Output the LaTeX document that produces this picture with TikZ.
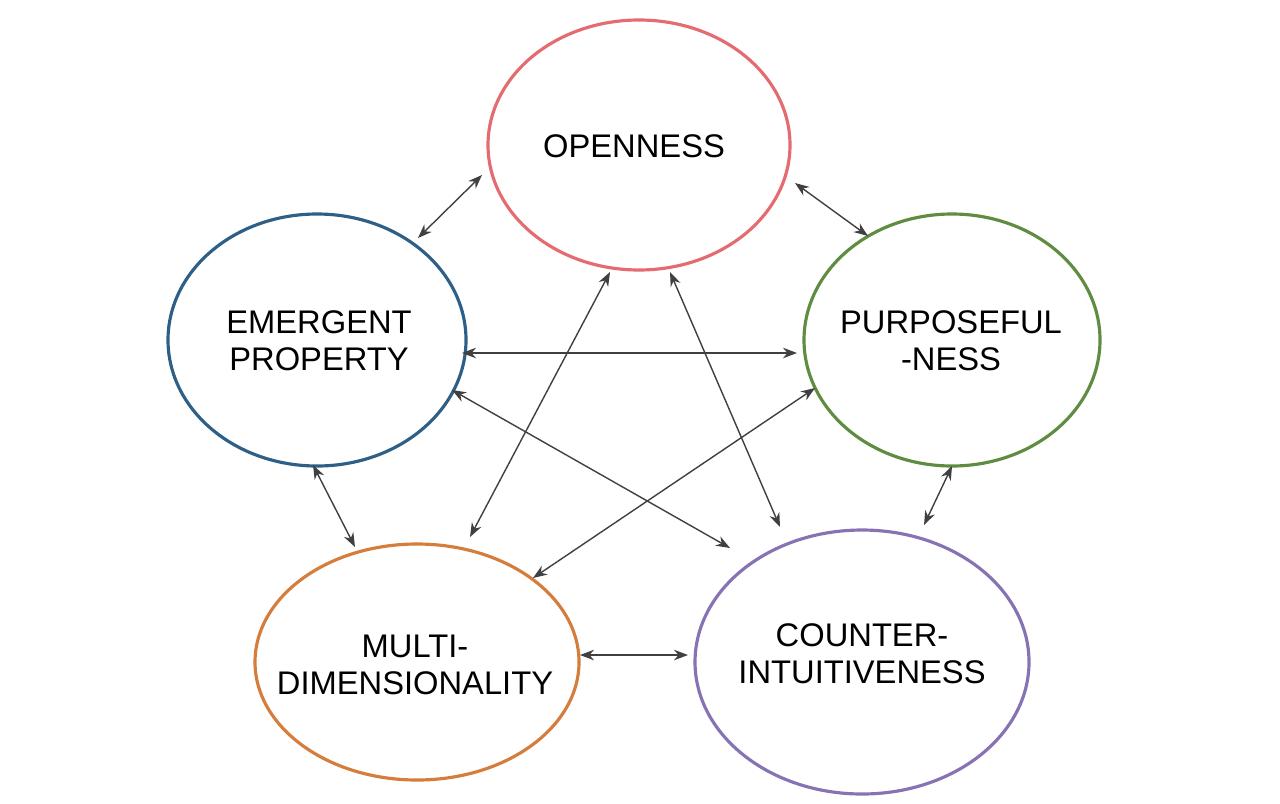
\documentclass[tikz,border=0pt]{standalone}
\usepackage{fontspec}
\setmainfont{Liberation Sans}
\usetikzlibrary{arrows.meta}
\definecolor{cred}{RGB}{228,108,112}
\definecolor{cblue}{RGB}{45,95,135}
\definecolor{cgreen}{RGB}{95,140,65}
\definecolor{corange}{RGB}{212,125,60}
\definecolor{cpurple}{RGB}{135,115,180}
\begin{document}
\begin{tikzpicture}[x=0.01cm,y=-0.01cm,
  ring/.style={line width=0.9pt},
  lbl/.style={align=center,inner sep=0pt,font=\fontsize{9.3}{10.6}\selectfont},
  ar/.style={line width=0.4pt,draw=black!75,{Stealth[length=4pt,width=3pt]}-{Stealth[length=4pt,width=3pt]}}]
\useasboundingbox (0,0) rectangle (1280,803);
\draw[ring,cred] (639,145) ellipse [x radius=151,y radius=125];
\node[lbl] (op) at (634,146) {OPENNESS};
\draw[ring,cblue] (317,340) ellipse [x radius=149,y radius=126];
\node[lbl] (em) at (319,341) {EMERGENT\\PROPERTY};
\draw[ring,cgreen] (952,340) ellipse [x radius=148,y radius=126];
\node[lbl] (pu) at (951,341) {PURPOSEFUL\\-NESS};
\draw[ring,corange] (417,662) ellipse [x radius=162,y radius=118];
\node[lbl] (mu) at (415,665) {MULTI-\\DIMENSIONALITY};
\draw[ring,cpurple] (862,662) ellipse [x radius=167,y radius=132];
\node[lbl] (co) at (862,654) {COUNTER-\\INTUITIVENESS};
\coordinate (a1) at (482,175); \coordinate (a2) at (418,238);
\coordinate (b1) at (795,183); \coordinate (b2) at (868,236);
\coordinate (c1) at (462,353); \coordinate (c2) at (797,353);
\coordinate (d1) at (452,390); \coordinate (d2) at (730,548);
\coordinate (e1) at (815,388); \coordinate (e2) at (533,578);
\coordinate (f1) at (610,272); \coordinate (f2) at (470,537);
\coordinate (g1) at (670,272); \coordinate (g2) at (780,527);
\coordinate (h1) at (313,465); \coordinate (h2) at (355,547);
\coordinate (i1) at (952,466); \coordinate (i2) at (924,525);
\coordinate (j1) at (580,655); \coordinate (j2) at (688,655);
\foreach \p in {a,b,c,d,e,f,g,h,i,j} \draw[ar] (\p1) -- (\p2);
\end{tikzpicture}
\end{document}
